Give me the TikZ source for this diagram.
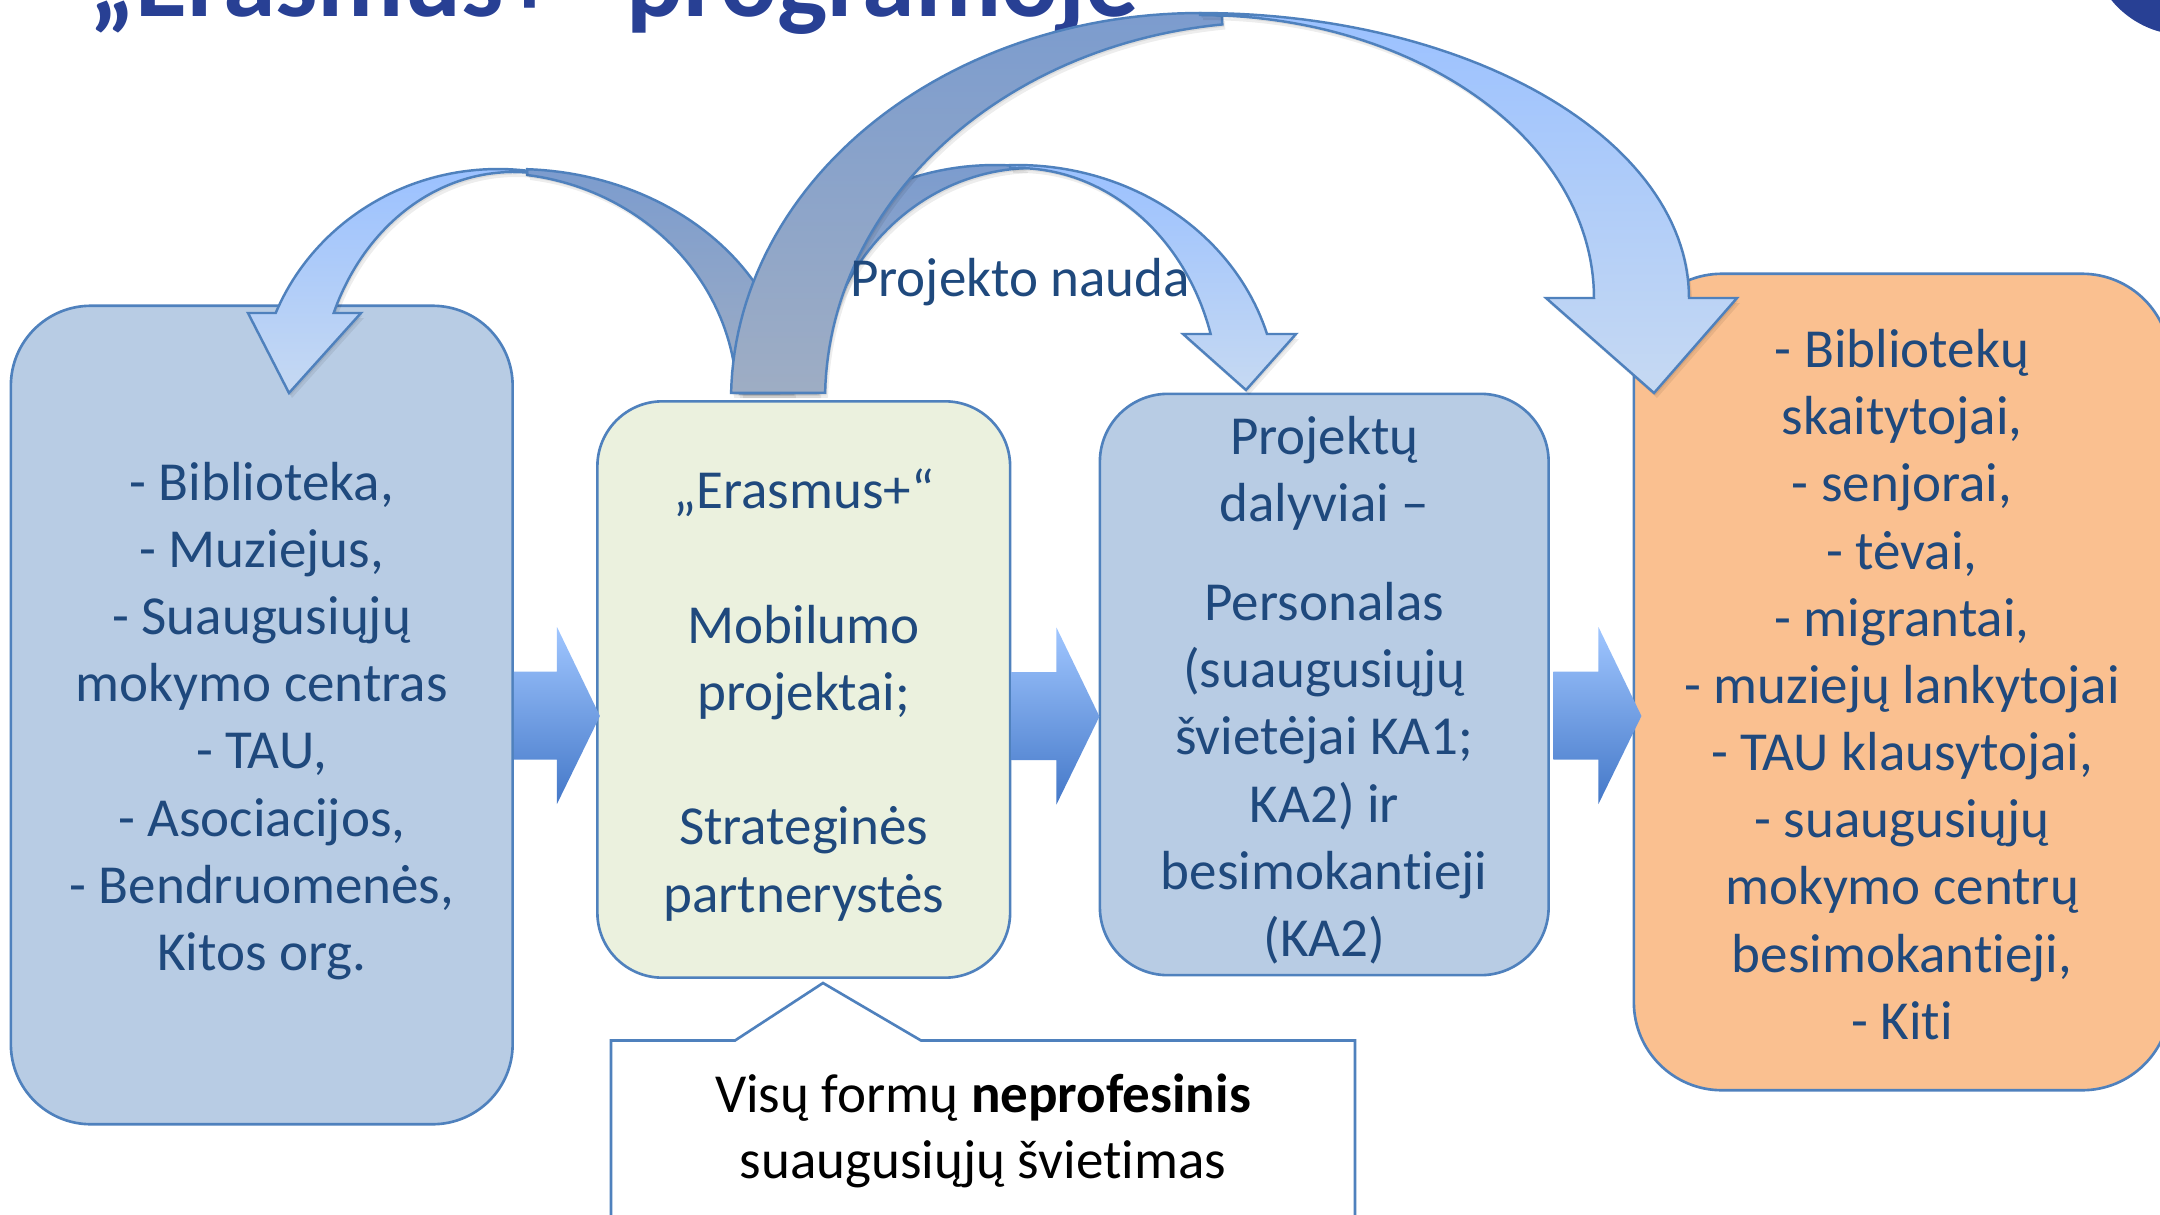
\documentclass[tikz,border=0pt]{standalone}
\usepackage{fontspec}
\setmainfont{Carlito}[Ligatures=NoCommon]
\usetikzlibrary{backgrounds}
\definecolor{bordc}{RGB}{79,129,189}
\definecolor{boxblue}{RGB}{184,204,228}
\definecolor{boxgreen}{RGB}{235,241,222}
\definecolor{boxorange}{RGB}{250,192,144}
\definecolor{txtc}{RGB}{31,73,125}
\definecolor{titlec}{RGB}{40,64,148}
\definecolor{darkTop}{RGB}{124,156,206}
\definecolor{darkBot}{RGB}{158,173,196}
\definecolor{lightTop}{RGB}{155,193,255}
\definecolor{lightBot}{RGB}{198,217,242}
\definecolor{arrTop}{RGB}{160,198,255}
\definecolor{arrBot}{RGB}{68,120,200}
\newcommand\bodyfont{\fontsize{15.65pt}{19.1pt}\selectfont}
\newcommand\titlefont{\fontsize{30.2pt}{36pt}\selectfont\bfseries}
% curved arrow bands (pixel coordinates, y downwards)
\newcommand\arcOneDark{plot[domain=87.7:1.736,samples=50] ({516+277*cos(\x)},{400-231*sin(\x)}) -- plot[domain=1.767:82.4,samples=50] ({495+242*cos(\x)},{400-227*sin(\x)}) -- cycle}
\newcommand\arcOneLight{plot[domain=83.06:157.87,samples=50] ({498+240*cos(\x)},{400-231*sin(\x)}) -- (248,313) -- (289,393) -- (361,313) -- plot[domain=157.57:85.86,samples=50] ({513+194*cos(\x)},{400-228*sin(\x)}) -- cycle}
\newcommand\arcTwoDark{plot[domain=83.24:178.3,samples=50] ({995+255*cos(\x)},{400-235*sin(\x)}) -- plot[domain=178.27:92.13,samples=50] ({1033+215*cos(\x)},{400-232*sin(\x)}) -- cycle}
\newcommand\arcTwoLight{plot[domain=91.54:16.31,samples=50] ({1017+260.5*cos(\x)},{400-235*sin(\x)}) -- (1296,334) -- (1246,390) -- (1183,334) -- plot[domain=16.53:91.99,samples=50] ({1017+202*cos(\x)},{400-232*sin(\x)}) -- cycle}
\newcommand\arcThreeDark{plot[domain=178.96:90,samples=60] ({1200+469*cos(\x)},{400-387*sin(\x)}) -- (1222,16) -- plot[domain=96.5:178.9,samples=60] ({1273+448*cos(\x)},{400-378*sin(\x)}) -- cycle}
\newcommand\arcThreeLight{plot[domain=90:0,samples=60] ({1200+489*cos(\x)},{298-285*sin(\x)}) -- (1737,298) -- (1654,393) -- (1546,298) -- plot[domain=0:90,samples=60] ({1200+394*cos(\x)},{298-283*sin(\x)}) -- cycle}
% block arrow: #1 anchor, #2 shift from anchor to upper-left shaft corner, #3 shaft length
\newcommand\blockarr[3]{\path[blockarrow] ([shift={#2}]#1) -- ++(#3,0) -- ++(0,-44.5) -- ++(43,89) -- ++(-43,88) -- ++(0,-44.5) -- ++(-#3,0) -- cycle;}
\begin{document}
\begin{tikzpicture}[x=0.01cm,y=-0.01cm,
  box/.style={draw=bordc, line width=0.75pt, inner sep=0pt},
  boxtext/.style={inner sep=0pt, align=center, text=txtc, font=\bodyfont},
  darkband/.style={draw=bordc, line width=0.7pt, top color=darkTop, bottom color=darkBot},
  lightband/.style={draw=bordc, line width=0.7pt, top color=lightTop, bottom color=lightBot},
  blockarrow/.style={top color=arrTop, bottom color=arrBot},
  shadowfill/.style={fill=black, opacity=0.07},
  plain/.style={font=\bodyfont, inner sep=0pt}]
\useasboundingbox (0,0) rectangle (2160,1215);
\clip (0,0) rectangle (2160,1215);
\fill[white] (0,0) rectangle (2160,1215);

% title and corner logo
\node[anchor=base, font=\titlefont, text=titlec, inner sep=0pt] (title) at (614.5,16.5) {„Erasmus+“ programoje};
\fill[titlec] (2185,-60) circle[radius=0.95cm];

% boxes
\node[box, fill=boxblue, rounded corners=0.8cm, minimum width=5.015cm, minimum height=8.18cm] (A) at (261.75,715) {};
\node[box, fill=boxgreen, rounded corners=0.65cm, minimum width=4.125cm, minimum height=5.76cm] (B) at (803.75,689.5) {};
\node[box, fill=boxblue, rounded corners=0.68cm, minimum width=4.485cm, minimum height=5.81cm] (C) at (1324.25,684.5) {};
\node[box, fill=boxorange, rounded corners=0.88cm, minimum width=5.36cm, minimum height=8.16cm] (D) at (1902,682) {};

\node[boxtext] (At) at ([yshift=-0.06cm]A.center)
  {- Biblioteka,\\- Muziejus,\\- Suaugusiųjų\\mokymo centras\\- TAU,\\- Asociacijos,\\- Bendruomenės,\\Kitos org.};
\node[boxtext] (Bt) at ([yshift=-0.055cm]B.center)
  {„Erasmus+“\\[0.673cm]Mobilumo\\projektai;\\[0.673cm]Strateginės\\partnerystės};
\node[boxtext] (Ct) at ([yshift=-0.055cm]C.center)
  {Projektų\\dalyviai –\\[0.32cm]Personalas\\(suaugusiųjų\\švietėjai KA1;\\KA2) ir\\besimokantieji\\(KA2)};
\node[boxtext] (Dt) at ([yshift=-0.025cm]D.center)
  {- Bibliotekų\\skaitytojai,\\- senjorai,\\- tėvai,\\- migrantai,\\- muziejų lankytojai\\- TAU klausytojai,\\- suaugusiųjų\\mokymo centrų\\besimokantieji,\\- Kiti};

\begin{pgfonlayer}{background}
\foreach \n/\r in {A/0.8cm,B/0.65cm,C/0.68cm,D/0.88cm}{
  \foreach \d in {2,4,6,8}{
    \fill[shadowfill, rounded corners=\r] ([shift={(1,\d)}]\n.south west) rectangle ([shift={(1,\d)}]\n.north east);
  }
}
\end{pgfonlayer}

% straight block arrows
\blockarr{A.east}{(0,-43.5)}{43}
\blockarr{B.east}{(0,-17.5)}{45}
\blockarr{C.east}{(3.5,-13)}{45}

% callout
\path[fill=white, draw=bordc, line width=0.75pt] (611,1240) -- (611,1040.5) -- (735,1040.5) -- (823,983) -- (921,1040.5) -- (1355,1040.5) -- (1355,1240);
\node[plain, anchor=base] (E1) at (983,1112) {Visų formų \textbf{neprofesinis}};
\node[plain, anchor=base] (E2) at (983,1178) {suaugusiųjų švietimas};

% curved arrows with soft shadows
\foreach \s in {1,2}{
  \path[shadowfill, shift={(1.5*\s,2.5*\s)}] \arcOneDark;
  \path[shadowfill, shift={(1.5*\s,2.5*\s)}] \arcTwoDark;
}
\path[darkband] \arcOneDark;
\path[darkband] \arcTwoDark;
\foreach \s in {1,2}{
  \path[shadowfill, shift={(1.5*\s,2.5*\s)}] \arcThreeDark;
}
\path[darkband] \arcThreeDark;
\foreach \s in {1,2}{
  \path[shadowfill, shift={(1.5*\s,2.5*\s)}] \arcThreeLight;
  \path[shadowfill, shift={(1.5*\s,2.5*\s)}] \arcOneLight;
  \path[shadowfill, shift={(1.5*\s,2.5*\s)}] \arcTwoLight;
}
\path[lightband] \arcThreeLight;
\path[lightband] \arcOneLight;
\path[lightband] \arcTwoLight;

\node[plain, anchor=base, text=txtc] (nauda) at (1020,296) {Projekto nauda};
\end{tikzpicture}
\end{document}
